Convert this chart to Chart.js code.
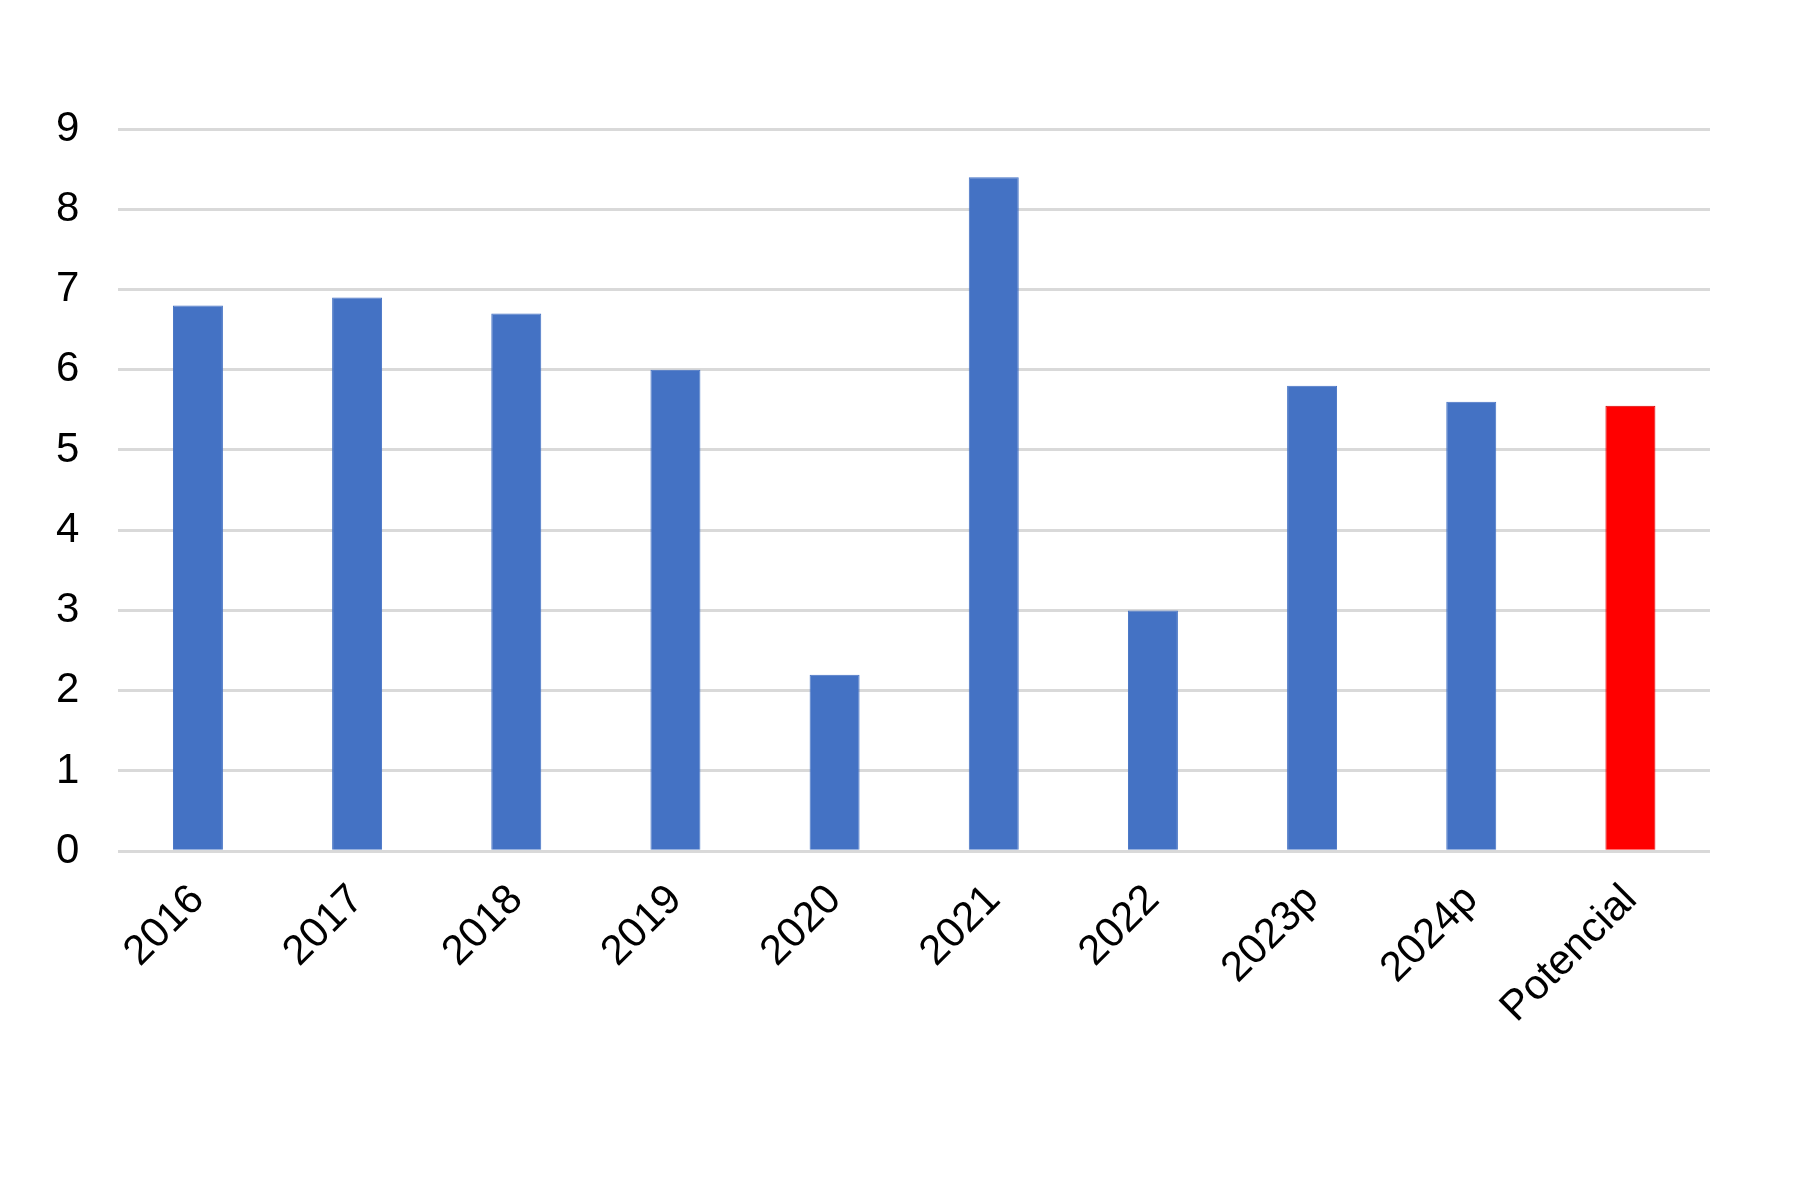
<!DOCTYPE html>
<html>
<head>
<meta charset="utf-8">
<script src="https://cdn.jsdelivr.net/npm/chart.js@4/dist/chart.umd.min.js"></script>
<style>
html,body{margin:0;padding:0;background:#fff;}
#wrap{width:1800px;height:1200px;}
</style>
</head>
<body>
<div id="wrap"><canvas id="c" width="1800" height="1200"></canvas></div>
<script>
const categories = ["2016","2017","2018","2019","2020","2021","2022","2023p","2024p","Potencial"];
const values = [6.8, 6.9, 6.7, 6.0, 2.2, 8.4, 3.0, 5.8, 5.6, 5.55];
const barColors = ["#4472C4","#4472C4","#4472C4","#4472C4","#4472C4","#4472C4","#4472C4","#4472C4","#4472C4","#FF0000"];
const borderColors = ["#4472C4","#4472C4","#4472C4","#4472C4","#4472C4","#4472C4","#4472C4","#4472C4","#4472C4","#D80000"];
const yTicks = [0,1,2,3,4,5,6,7,8,9];

const font = {family: "'Liberation Sans', Arial, sans-serif", size: 42};

new Chart(document.getElementById('c'), {
  type: 'bar',
  data: {
    labels: categories,
    datasets: [{
      data: values,
      backgroundColor: barColors,
      borderColor: borderColors,
      borderWidth: 1,
      categoryPercentage: 1.0,
      barPercentage: 0.314
    }]
  },
  options: {
    responsive: false,
    devicePixelRatio: 1,
    animation: false,
    layout: {padding: {top: 129, right: 90, bottom: 143, left: 17}},
    plugins: {legend: {display: false}, tooltip: {enabled: false}},
    scales: {
      x: {
        grid: {display: false, drawTicks: false},
        border: {display: false},
        ticks: {color: '#000', font: font, minRotation: 45, maxRotation: 45, padding: 24}
      },
      y: {
        min: 0, max: 9,
        afterBuildTicks: (s) => { s.ticks = yTicks.map(v => ({value: v})); },
        grid: {color: '#d9d9d9', lineWidth: 3, drawTicks: false},
        border: {display: false},
        ticks: {color: '#000', font: font, padding: 39}
      }
    }
  }
});
</script>
</body>
</html>
